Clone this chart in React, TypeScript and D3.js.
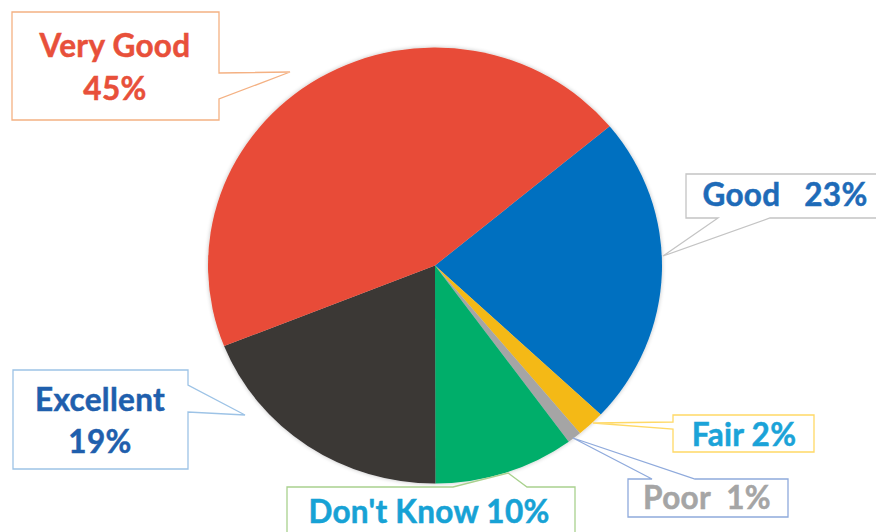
import React from "react";
import * as d3 from "d3";

const categories = ["Good", "Fair", "Poor", "Don't Know", "Excellent", "Very Good"];
const values = [23, 2, 1, 10, 19, 45];
const sliceColors = ["#0070C0", "#F4B919", "#A5A5A5", "#00AE6A", "#3A3736", "#E84C37"];
const labelColors = ["#1E6BB8", "#1BA3D8", "#A5A5A5", "#17A2D5", "#1F5FAD", "#E8503A"];
const borderColors = ["#C4C4C4", "#FFD966", "#8FAADC", "#A9D18E", "#9DC3E6", "#F4B183"];
const labelLines = [
  ["Good   23%"],
  ["Fair 2%"],
  ["Poor  1%"],
  ["Don't Know 10%"],
  ["Excellent", "19%"],
  ["Very Good", "45%"],
];

type Side = "left" | "right" | "top" | "bottom";
interface Callout {
  x0: number; y0: number; x1: number; y1: number;
  side: Side; b1: number; b2: number; tx: number; ty: number;
  cx: number; base: number[];
}

// layout of the callout boxes (order matches categories)
const callouts: Callout[] = [
  { x0: 686, y0: 174, x1: 882, y1: 218, side: "bottom", b1: 718, b2: 770, tx: 663, ty: 256, cx: 785, base: [206] },
  { x0: 673, y0: 415, x1: 814, y1: 452, side: "left", b1: 422, b2: 429, tx: 593, ty: 423, cx: 744, base: [446] },
  { x0: 628, y0: 479, x1: 788, y1: 517, side: "top", b1: 652, b2: 695, tx: 573, ty: 438, cx: 707, base: [509] },
  { x0: 287, y0: 487, x1: 575, y1: 545, side: "top", b1: 453, b2: 527, tx: 508, ty: 473, cx: 429, base: [523] },
  { x0: 13, y0: 370, x1: 188, y1: 469, side: "right", b1: 385, b2: 412, tx: 245, ty: 415, cx: 100, base: [411, 453] },
  { x0: 12, y0: 12, x1: 219, y1: 120, side: "right", b1: 73, b2: 99, tx: 290, ty: 72, cx: 115, base: [57, 100] },
];

function calloutPath(c: Callout): string {
  const { x0, y0, x1, y1, side, b1, b2, tx, ty } = c;
  const p = d3.path();
  p.moveTo(x0, y0);
  if (side === "top") { p.lineTo(b1, y0); p.lineTo(tx, ty); p.lineTo(b2, y0); }
  p.lineTo(x1, y0);
  if (side === "right") { p.lineTo(x1, b1); p.lineTo(tx, ty); p.lineTo(x1, b2); }
  p.lineTo(x1, y1);
  if (side === "bottom") { p.lineTo(b2, y1); p.lineTo(tx, ty); p.lineTo(b1, y1); }
  p.lineTo(x0, y1);
  if (side === "left") { p.lineTo(x0, b2); p.lineTo(tx, ty); p.lineTo(x0, b1); }
  p.closePath();
  return p.toString();
}

export default function App() {
  const W = 876, H = 532;
  const cx = 435, cy = 265.5, r = 227, sy = 218 / 227;
  const pie = d3.pie<number>().sort(null).value((d) => d)
    .startAngle((50.3 * Math.PI) / 180)
    .endAngle((50.3 * Math.PI) / 180 + 2 * Math.PI);
  const arcs = pie(values);
  const arc = d3.arc<d3.PieArcDatum<number>>().innerRadius(0).outerRadius(r);

  return (
    <svg width={W} height={H} style={{ position: "absolute", left: 0, top: 0, background: "#fff" }}>
      <defs>
        <filter id="sh" x="-10%" y="-10%" width="120%" height="120%">
          <feGaussianBlur in="SourceAlpha" stdDeviation="2" />
          <feComponentTransfer><feFuncA type="linear" slope="0.25" /></feComponentTransfer>
          <feMerge><feMergeNode /><feMergeNode in="SourceGraphic" /></feMerge>
        </filter>
      </defs>
      <g transform={`translate(${cx},${cy}) scale(1,${sy})`} filter="url(#sh)">
        {arcs.map((a, i) => (
          <path key={i} d={arc(a) || ""} fill={sliceColors[i]} />
        ))}
      </g>
      {callouts.map((c, i) => (
        <g key={i}>
          <path d={calloutPath(c)} fill="#fff" stroke={borderColors[i]} strokeWidth={1.3} />
          {labelLines[i].map((t, j) => (
            <text key={j} x={c.cx} y={c.base[j]} textAnchor="middle" fill={labelColors[i]}
              stroke={labelColors[i]} strokeWidth={0.5}
              fontFamily="Lato, 'Open Sans', sans-serif" fontWeight={700} fontSize={31.5}
              letterSpacing={0.3}
              style={{ whiteSpace: "pre" }}>
              {t}
            </text>
          ))}
        </g>
      ))}
    </svg>
  );
}
